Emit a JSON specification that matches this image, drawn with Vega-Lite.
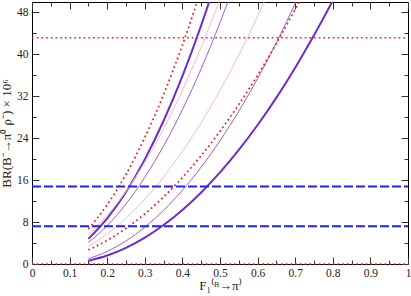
{
  "$schema": "https://vega.github.io/schema/vega-lite/v6.json",
  "width": 376,
  "height": 262,
  "autosize": {"type": "none"},
  "padding": {"left": 32, "top": 2, "right": 3, "bottom": 32},
  "background": "white",
  "config": {
    "view": {"stroke": "black", "strokeWidth": 1},
    "font": "Liberation Serif",
    "axis": {"grid": false, "domain": false, "labelFont": "Liberation Serif", "titleFont": "Liberation Serif", "labelColor": "#222", "titleColor": "#222", "tickColor": "#333", "tickWidth": 1}
  },
  "datasets": {
    "curves": [
      {"series": "thick_upper", "F": 0.15, "BR": 4.79},
      {"series": "thick_upper", "F": 0.2, "BR": 8.70},
      {"series": "thick_upper", "F": 0.25, "BR": 13.75},
      {"series": "thick_upper", "F": 0.3, "BR": 19.97},
      {"series": "thick_upper", "F": 0.35, "BR": 27.34},
      {"series": "thick_upper", "F": 0.4, "BR": 35.87},
      {"series": "thick_upper", "F": 0.45, "BR": 45.55},
      {"series": "thick_upper", "F": 0.5, "BR": 56.38},
      {"series": "thick_lower", "F": 0.15, "BR": 0.62},
      {"series": "thick_lower", "F": 0.2, "BR": 1.62},
      {"series": "thick_lower", "F": 0.25, "BR": 3.08},
      {"series": "thick_lower", "F": 0.3, "BR": 5.02},
      {"series": "thick_lower", "F": 0.35, "BR": 7.43},
      {"series": "thick_lower", "F": 0.4, "BR": 10.31},
      {"series": "thick_lower", "F": 0.45, "BR": 13.66},
      {"series": "thick_lower", "F": 0.5, "BR": 17.48},
      {"series": "thick_lower", "F": 0.55, "BR": 21.77},
      {"series": "thick_lower", "F": 0.6, "BR": 26.53},
      {"series": "thick_lower", "F": 0.65, "BR": 31.76},
      {"series": "thick_lower", "F": 0.7, "BR": 37.47},
      {"series": "thick_lower", "F": 0.75, "BR": 43.64},
      {"series": "thick_lower", "F": 0.8, "BR": 50.28},
      {"series": "thick_lower", "F": 0.85, "BR": 57.40},
      {"series": "thin_upper", "F": 0.15, "BR": 4.11},
      {"series": "thin_upper", "F": 0.2, "BR": 7.32},
      {"series": "thin_upper", "F": 0.25, "BR": 11.47},
      {"series": "thin_upper", "F": 0.3, "BR": 16.54},
      {"series": "thin_upper", "F": 0.35, "BR": 22.53},
      {"series": "thin_upper", "F": 0.4, "BR": 29.45},
      {"series": "thin_upper", "F": 0.45, "BR": 37.29},
      {"series": "thin_upper", "F": 0.5, "BR": 46.06},
      {"series": "thin_upper", "F": 0.55, "BR": 55.75},
      {"series": "thin_lower", "F": 0.15, "BR": 1.00},
      {"series": "thin_lower", "F": 0.2, "BR": 2.41},
      {"series": "thin_lower", "F": 0.25, "BR": 4.41},
      {"series": "thin_lower", "F": 0.3, "BR": 7.03},
      {"series": "thin_lower", "F": 0.35, "BR": 10.25},
      {"series": "thin_lower", "F": 0.4, "BR": 14.07},
      {"series": "thin_lower", "F": 0.45, "BR": 18.50},
      {"series": "thin_lower", "F": 0.5, "BR": 23.53},
      {"series": "thin_lower", "F": 0.55, "BR": 29.17},
      {"series": "thin_lower", "F": 0.6, "BR": 35.41},
      {"series": "thin_lower", "F": 0.65, "BR": 42.26},
      {"series": "thin_lower", "F": 0.7, "BR": 49.72},
      {"series": "thin_lower", "F": 0.75, "BR": 57.78},
      {"series": "pink_upper", "F": 0.15, "BR": 5.62},
      {"series": "pink_upper", "F": 0.2, "BR": 9.30},
      {"series": "pink_upper", "F": 0.25, "BR": 13.89},
      {"series": "pink_upper", "F": 0.3, "BR": 19.39},
      {"series": "pink_upper", "F": 0.35, "BR": 25.82},
      {"series": "pink_upper", "F": 0.4, "BR": 33.16},
      {"series": "pink_upper", "F": 0.45, "BR": 41.43},
      {"series": "pink_upper", "F": 0.5, "BR": 50.60},
      {"series": "pink_upper", "F": 0.55, "BR": 60.70},
      {"series": "pink_lower", "F": 0.15, "BR": 3.37},
      {"series": "pink_lower", "F": 0.2, "BR": 5.74},
      {"series": "pink_lower", "F": 0.25, "BR": 8.74},
      {"series": "pink_lower", "F": 0.3, "BR": 12.37},
      {"series": "pink_lower", "F": 0.35, "BR": 16.62},
      {"series": "pink_lower", "F": 0.4, "BR": 21.50},
      {"series": "pink_lower", "F": 0.45, "BR": 27.01},
      {"series": "pink_lower", "F": 0.5, "BR": 33.14},
      {"series": "pink_lower", "F": 0.55, "BR": 39.90},
      {"series": "pink_lower", "F": 0.6, "BR": 47.29},
      {"series": "pink_lower", "F": 0.65, "BR": 55.31},
      {"series": "dotted_upper", "F": 0.15, "BR": 6.70},
      {"series": "dotted_upper", "F": 0.2, "BR": 11.31},
      {"series": "dotted_upper", "F": 0.25, "BR": 17.13},
      {"series": "dotted_upper", "F": 0.3, "BR": 24.14},
      {"series": "dotted_upper", "F": 0.35, "BR": 32.36},
      {"series": "dotted_upper", "F": 0.4, "BR": 41.78},
      {"series": "dotted_upper", "F": 0.45, "BR": 52.40},
      {"series": "dotted_lower", "F": 0.15, "BR": 2.69},
      {"series": "dotted_lower", "F": 0.2, "BR": 4.51},
      {"series": "dotted_lower", "F": 0.25, "BR": 6.81},
      {"series": "dotted_lower", "F": 0.3, "BR": 9.57},
      {"series": "dotted_lower", "F": 0.35, "BR": 12.81},
      {"series": "dotted_lower", "F": 0.4, "BR": 16.52},
      {"series": "dotted_lower", "F": 0.45, "BR": 20.69},
      {"series": "dotted_lower", "F": 0.5, "BR": 25.34},
      {"series": "dotted_lower", "F": 0.55, "BR": 30.46},
      {"series": "dotted_lower", "F": 0.6, "BR": 36.05},
      {"series": "dotted_lower", "F": 0.65, "BR": 42.11},
      {"series": "dotted_lower", "F": 0.7, "BR": 48.64},
      {"series": "dotted_lower", "F": 0.75, "BR": 55.64}
    ],
    "limits": [
      {"series": "exp_upper", "F": 0, "BR": 14.8},
      {"series": "exp_upper", "F": 1, "BR": 14.8},
      {"series": "exp_lower", "F": 0, "BR": 7.2},
      {"series": "exp_lower", "F": 1, "BR": 7.2},
      {"series": "bound_upper", "F": 0, "BR": 43.2},
      {"series": "bound_upper", "F": 1, "BR": 43.2},
      {"series": "bound_lower", "F": 0, "BR": 0},
      {"series": "bound_lower", "F": 1, "BR": 0}
    ]
  },
  "resolve": {"axis": {"x": "independent", "y": "independent"}},
  "layer": [
    {
      "data": {"name": "curves"},
      "transform": [{"filter": "indexof(datum.series, 'thick') === 0"}],
      "mark": {"type": "line", "clip": true, "interpolate": "monotone", "color": "#6c2cd0", "strokeWidth": 2},
      "encoding": {
        "x": {"field": "F", "type": "quantitative", "scale": {"domain": [0, 1], "nice": false},
          "axis": {"orient": "bottom", "values": [0, 0.1, 0.2, 0.3, 0.4, 0.5, 0.6, 0.7, 0.8, 0.9, 1], "format": "~g", "ticks": false, "labelPadding": 3, "labelFontSize": 11.5, "labelFlush": false,
            "title": "F₁⁽ᴮ→π⁾", "titleFontSize": 13, "titleFontWeight": "normal", "titlePadding": 1}},
        "y": {"field": "BR", "type": "quantitative", "scale": {"domain": [0, 50], "nice": false, "zero": false},
          "axis": {"orient": "left", "values": [0, 8, 16, 24, 32, 40, 48], "ticks": false, "labelPadding": 4, "labelFontSize": 11.5, "labelFlush": false,
            "title": "BR(B⁻→π⁰ ρ⁻) × 10⁶", "titleFontSize": 13, "titleFontWeight": "normal", "titlePadding": 3}},
        "detail": {"field": "series"}
      }
    },
    {
      "data": {"name": "curves"},
      "transform": [{"filter": "indexof(datum.series, 'thin') === 0"}],
      "mark": {"type": "line", "clip": true, "interpolate": "monotone", "color": "#9060e0", "strokeWidth": 1},
      "encoding": {
        "x": {"field": "F", "type": "quantitative", "axis": {"orient": "bottom", "values": [0, 0.1, 0.2, 0.3, 0.4, 0.5, 0.6, 0.7, 0.8, 0.9, 1], "labels": false, "title": null, "tickSize": -7}},
        "y": {"field": "BR", "type": "quantitative", "axis": {"orient": "left", "values": [0, 8, 16, 24, 32, 40, 48], "labels": false, "title": null, "tickSize": -7}},
        "detail": {"field": "series"}
      }
    },
    {
      "data": {"name": "curves"},
      "transform": [{"filter": "indexof(datum.series, 'pink') === 0"}],
      "mark": {"type": "line", "clip": true, "interpolate": "monotone", "color": "#ffb8c0", "strokeWidth": 1},
      "encoding": {
        "x": {"field": "F", "type": "quantitative", "axis": {"orient": "bottom", "values": [0.05, 0.15, 0.25, 0.35, 0.45, 0.55, 0.65, 0.75, 0.85, 0.95], "labels": false, "title": null, "tickSize": -4}},
        "y": {"field": "BR", "type": "quantitative", "axis": {"orient": "left", "values": [4, 12, 20, 28, 36, 44], "labels": false, "title": null, "tickSize": -4}},
        "detail": {"field": "series"}
      }
    },
    {
      "data": {"name": "curves"},
      "transform": [{"filter": "indexof(datum.series, 'dotted') === 0"}],
      "mark": {"type": "line", "clip": true, "interpolate": "monotone", "color": "#ff1010", "strokeWidth": 1.7, "strokeDash": [1.7, 3]},
      "encoding": {
        "x": {"field": "F", "type": "quantitative", "axis": {"orient": "top", "values": [0, 0.1, 0.2, 0.3, 0.4, 0.5, 0.6, 0.7, 0.8, 0.9, 1], "labels": false, "title": null, "tickSize": -7}},
        "y": {"field": "BR", "type": "quantitative", "axis": {"orient": "right", "values": [0, 8, 16, 24, 32, 40, 48], "labels": false, "title": null, "tickSize": -7}},
        "detail": {"field": "series"}
      }
    },
    {
      "data": {"name": "limits"},
      "transform": [{"filter": "indexof(datum.series, 'bound') === 0"}],
      "mark": {"type": "line", "color": "#ff2020", "strokeWidth": 1.5, "strokeDash": [1.7, 3]},
      "encoding": {
        "x": {"field": "F", "type": "quantitative", "axis": {"orient": "top", "values": [0.05, 0.15, 0.25, 0.35, 0.45, 0.55, 0.65, 0.75, 0.85, 0.95], "labels": false, "title": null, "tickSize": -4}},
        "y": {"field": "BR", "type": "quantitative", "axis": {"orient": "right", "values": [4, 12, 20, 28, 36, 44], "labels": false, "title": null, "tickSize": -4}},
        "detail": {"field": "series"}
      }
    },
    {
      "data": {"name": "limits"},
      "transform": [{"filter": "indexof(datum.series, 'exp') === 0"}],
      "mark": {"type": "line", "color": "#2020ff", "strokeWidth": 2, "strokeDash": [9, 3]},
      "encoding": {
        "x": {"field": "F", "type": "quantitative", "axis": null},
        "y": {"field": "BR", "type": "quantitative", "axis": null},
        "detail": {"field": "series"}
      }
    }
  ]
}
